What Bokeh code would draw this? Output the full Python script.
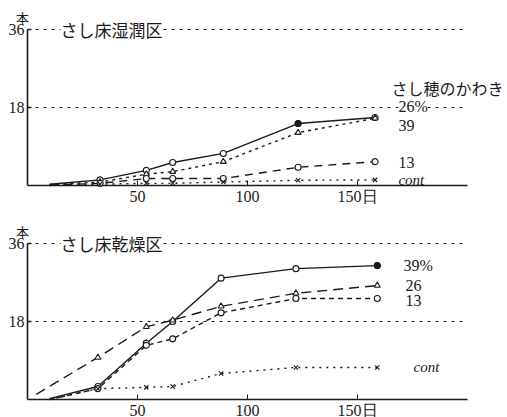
from bokeh.plotting import figure
from bokeh.layouts import column
from bokeh.models import Range1d, Label, FixedTicker
from bokeh.embed import file_html
from bokeh.resources import INLINE

# ---------------- data ----------------
X_END = 200            # length of drawn baseline (days)
REF_LEVELS = [18, 36]  # dotted reference levels
Y_TICKS = [18, 36]
X_TICKS = [50, 100, 150]
X_TICK_LABELS = {150: "150日"}

# さし床湿潤区 (wet bed)
wet_days = [10, 33, 54, 66, 89, 123, 158]
wet_39 = [0.3, 1.3, 3.5, 5.3, 7.4, 14.3, 15.7]
wet_26 = [0.2, 0.8, 2.6, 3.2, 5.5, 12.2, 15.5]
wet_13 = [0.1, 0.5, 1.6, 1.6, 1.6, 4.2, 5.5]
wet_cont = [0.0, 0.3, 0.5, 0.5, 0.8, 1.2, 1.3]

# さし床乾燥区 (dry bed)
dry_days = [10, 32, 54, 66, 88, 122, 159]
dry_days_26 = [4, 32, 54, 66, 88, 122, 159]
dry_39 = [0.2, 3.0, 13.0, 18.0, 28.0, 30.2, 30.9]
dry_26 = [1.2, 9.7, 16.8, 18.3, 21.5, 24.5, 26.3]
dry_13 = [0.0, 2.5, 12.5, 14.0, 20.0, 23.3, 23.3]
dry_cont = [0.0, 2.5, 2.8, 3.0, 6.0, 7.4, 7.4]

INK = "#1a1a1a"
SERIF = "Liberation Serif"
JP = "Noto Sans CJK JP"

W = 507
PX_PER_DAY = 2.2
PX_PER_UNIT = 78 / 18.0
ORIGIN_PX = 27          # screen x of day 0
X_START = -ORIGIN_PX / PX_PER_DAY
X_STOP = X_START + W / PX_PER_DAY


def make_panel(height, top_px):
    # top_px: pixels from panel top to the 36 level
    y_end = REF_LEVELS[-1] + top_px / PX_PER_UNIT
    y_start = y_end - height / PX_PER_UNIT
    p = figure(width=W, height=height, output_backend="svg", toolbar_location=None,
               x_range=Range1d(X_START, X_STOP), y_range=Range1d(y_start, y_end),
               min_border=0)
    p.outline_line_color = None
    p.grid.visible = False
    p.background_fill_color = "white"
    # axes fixed at the origin
    xa = p.xaxis[0]
    xa.fixed_location = 0
    xa.ticker = FixedTicker(ticks=X_TICKS)
    xa.major_label_overrides = X_TICK_LABELS
    xa.axis_line_color = None
    xa.major_tick_in = 5
    xa.major_tick_out = 0
    xa.minor_tick_line_color = None
    xa.major_tick_line_color = INK
    xa.major_tick_line_width = 1
    xa.major_label_standoff = 2
    xa.major_label_text_font = SERIF
    xa.major_label_text_font_size = "16px"
    xa.major_label_text_color = INK
    ya = p.yaxis[0]
    ya.fixed_location = 0
    ya.ticker = FixedTicker(ticks=Y_TICKS)
    ya.axis_line_color = None
    ya.major_tick_in = 4
    ya.major_tick_out = 0
    ya.minor_tick_line_color = None
    ya.major_tick_line_color = INK
    ya.major_tick_line_width = 1.3
    ya.major_label_standoff = 3
    ya.major_label_text_font = SERIF
    ya.major_label_text_font_size = "16px"
    ya.major_label_text_color = INK
    # reference dotted lines
    for lv in REF_LEVELS:
        p.line([0, X_END], [lv, lv], line_color=INK, line_width=1, line_dash="3 5")
    # baseline and vertical axis line
    p.line([0, X_END], [0, 0], line_color=INK, line_width=1.6)
    p.line([0, 0], [0, REF_LEVELS[-1]], line_color=INK, line_width=1.6)
    # unit
    p.add_layout(Label(x=-2.3, y=38.8, text="本", text_font=JP,
                       text_font_size="13px", text_color=INK, text_align="center",
                       text_baseline="middle"))
    return p


def series(p, days, vals, dash, marker, width=1.4, mstart=1):
    p.line(days, vals, line_color=INK, line_width=width, line_dash=dash)
    m = dict(x=days[mstart:], y=vals[mstart:], size=6, line_color=INK, line_width=1.1)
    if marker == "x":
        p.scatter(marker="x", **m)
    else:
        p.scatter(marker=marker, fill_color="white", **m)


def txt(p, x, y, s, font=SERIF, size="16px", style="normal", align="left", bg=None):
    p.add_layout(Label(x=x, y=y, text=s, text_font=font, text_font_size=size,
                       text_font_style=style, text_color=INK, text_align=align,
                       text_baseline="middle", background_fill_color=bg))


# ---------- top panel ----------
top = make_panel(height=212, top_px=29)
series(top, wet_days, wet_39, "solid", "circle")
series(top, wet_days, wet_26, "3 4", "triangle")
series(top, wet_days, wet_13, "8 6", "circle")
series(top, wet_days, wet_cont, "2 5", "x")
top.scatter(x=[wet_days[5]], y=[wet_39[5]], marker="circle", size=6, fill_color=INK, line_color=INK)
txt(top, 15, 36, "さし床湿潤区", font=JP, size="17px", bg="white")
txt(top, 165.5, 22.4, "さし穂のかわき", font=JP, size="16px")
txt(top, 168.6, 18.2, "26%", bg="white")
txt(top, 168.6, 13.8, "39")
txt(top, 168.6, 5.3, "13")
txt(top, 168.6, 1.3, "cont", style="italic", size="15px")

# ---------- bottom panel ----------
bot = make_panel(height=205, top_px=31)
series(bot, dry_days, dry_39, "solid", "circle")
series(bot, dry_days_26, dry_26, "10 6", "triangle")
series(bot, dry_days, dry_13, "5 4", "circle")
series(bot, dry_days, dry_cont, "2 5", "x")
bot.scatter(x=[dry_days[-1]], y=[dry_39[-1]], marker="circle", size=6, fill_color=INK, line_color=INK)
txt(bot, 15, 36, "さし床乾燥区", font=JP, size="17px", bg="white")
txt(bot, 170.9, 30.9, "39%")
txt(bot, 171.8, 26.3, "26")
txt(bot, 171.8, 22.8, "13")
txt(bot, 175.5, 7.4, "cont", style="italic", size="15px")

layout = column(top, bot, spacing=0)
open("out.html", "w").write(file_html(layout, INLINE))
